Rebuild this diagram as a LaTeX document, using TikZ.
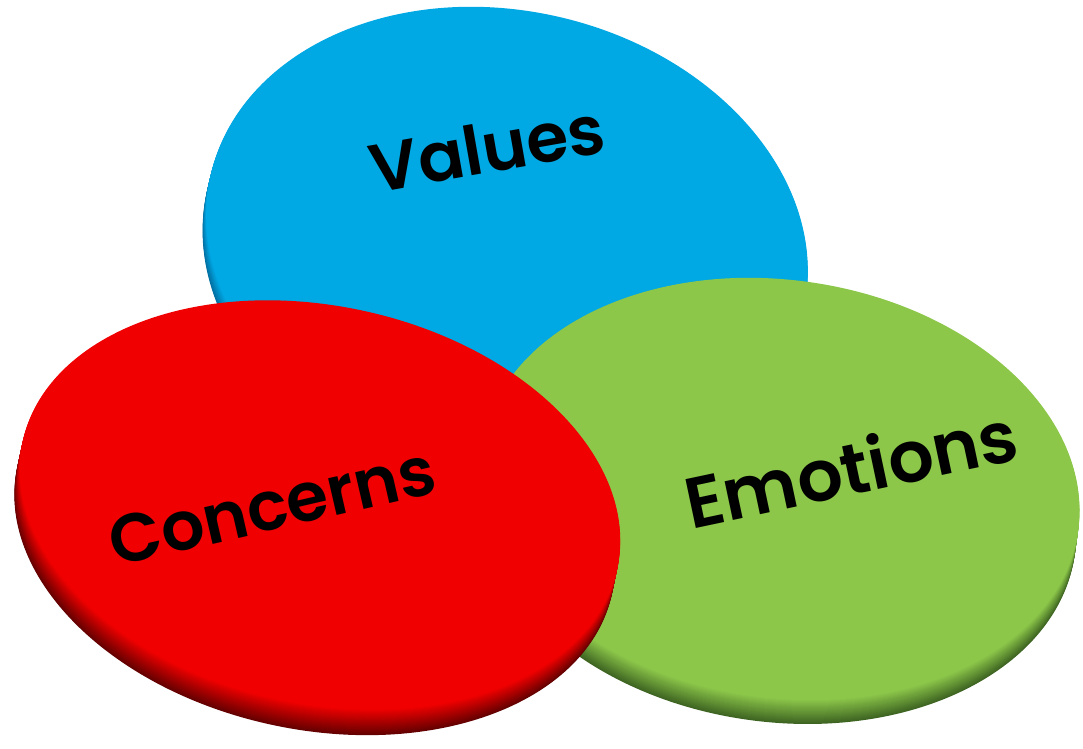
\documentclass[tikz,border=0pt]{standalone}
\usepackage{fontspec}
\setmainfont{Poppins}[BoldFont={Poppins SemiBold}]
\usepackage{tikz}

\definecolor{modra}{RGB}{0,168,228}
\definecolor{modraT}{RGB}{0,110,160}
\definecolor{zelena}{RGB}{140,199,74}
\definecolor{zelenaT}{RGB}{62,100,34}
\definecolor{rdeca}{RGB}{240,0,0}
\definecolor{rdecaT}{RGB}{100,0,0}

% disk: sredisce, polosi, kot, debelina, barva zgoraj, barva roba
\newcommand{\disk}[7]{%
  \foreach \d in {0,...,#5}{%
    \pgfmathtruncatemacro{\e}{#5-\d}%
    \pgfmathtruncatemacro{\p}{100*\e/#5}%
    \fill[#7!\p!#6, rotate around={#4:#1}] #1 ++(0,\e) ellipse [x radius=#2, y radius=#3];
  }%
}

\begin{document}
\begin{tikzpicture}[x=1pt, y=-1pt, napis/.style = {font=\fontsize{68}{78}\selectfont\bfseries, text=black, inner sep=0pt}]
    
    \useasboundingbox (0,0) rectangle (1083,748);
    
    % Diski
    \disk{(507,243)}{304}{232}{-13}{16}{modra}{modraT}
    \disk{(780,489)}{301}{209}{-8}{24}{zelena}{zelenaT}
    \disk{(320,505)}{304}{199}{-12}{26}{rdeca}{rdecaT}
    
    % Napisi
    \node[napis, rotate=10] (values) at (487,148) {Values};
    \node[napis, rotate=13] (concerns) at (272,506) {Concerns};
    \node[napis, rotate=12, scale=1.05] (emotions) at (851,467) {Emotions};
    
\end{tikzpicture}
\end{document}
